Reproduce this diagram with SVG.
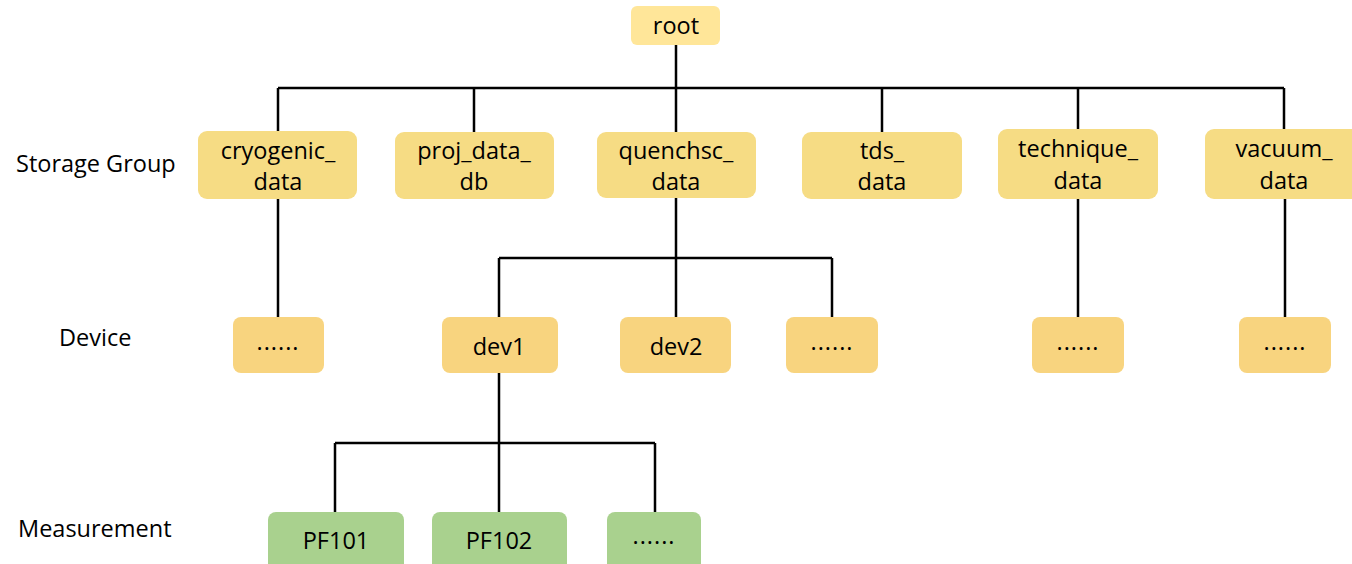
<svg xmlns="http://www.w3.org/2000/svg" width="1352" height="564" viewBox="0 0 1352 564">
<style>
text{font-family:"Open Sans","Noto Sans","Liberation Sans",sans-serif;font-size:23.5px;fill:#000;text-anchor:middle}
.lbl{text-anchor:start}
.dots{letter-spacing:1px}
.root{fill:#FFE699}
.sg{fill:#F6DC84}
.dv{fill:#F8D47F}
.ms{fill:#A9D18E}
.c{fill:none;stroke:#000;stroke-width:2.5}
</style>
<rect width="1352" height="564" fill="#fff"/>
<g id="connectors">
<path class="c" d="M676 45V88M278 88H1284M278 88V131M474 88V132M676 88V132M882 88V132M1078 88V129M1284 88V129"/>
<path class="c" d="M278 199V317M676 198V318M499 258H832M499 258V317M832 258V317M1078 199V317M1285 199V317"/>
<path class="c" d="M499 373V512M335 443H655M335 443V512M655 443V512"/>
</g>
<g id="labels">
<text class="lbl" x="16" y="172">Storage Group</text>
<text class="lbl" x="59" y="346">Device</text>
<text class="lbl" x="18" y="537">Measurement</text>
</g>
<g id="root"><rect class="root" x="631" y="6" width="89" height="39" rx="6"/><text x="676" y="34">root</text></g>
<g id="cryogenic_data"><rect class="sg" x="198" y="131" width="159" height="68" rx="9"/><text x="278" y="159">cryogenic_</text><text x="278" y="190">data</text></g>
<g id="proj_data_db"><rect class="sg" x="395" y="132" width="159" height="67" rx="9"/><text x="474" y="159">proj_data_</text><text x="474" y="190">db</text></g>
<g id="quenchsc_data"><rect class="sg" x="597" y="132" width="159" height="66" rx="9"/><text x="676" y="159">quenchsc_</text><text x="676" y="190">data</text></g>
<g id="tds_data"><rect class="sg" x="802" y="132" width="160" height="67" rx="9"/><text x="882" y="159">tds_</text><text x="882" y="190">data</text></g>
<g id="technique_data"><rect class="sg" x="998" y="129" width="160" height="70" rx="9"/><text x="1078" y="157">technique_</text><text x="1078" y="189">data</text></g>
<g id="vacuum_data"><rect class="sg" x="1205" y="129" width="160" height="70" rx="9"/><text x="1284" y="157">vacuum_</text><text x="1284" y="189">data</text></g>
<g id="dev_more1"><rect class="dv" x="233" y="317" width="91" height="56" rx="8"/><text class="dots" x="278" y="350">......</text></g>
<g id="dev1"><rect class="dv" x="442" y="317" width="116" height="56" rx="8"/><text x="499" y="355">dev1</text></g>
<g id="dev2"><rect class="dv" x="620" y="317" width="111" height="56" rx="8"/><text x="676" y="355">dev2</text></g>
<g id="dev_more2"><rect class="dv" x="786" y="317" width="92" height="56" rx="8"/><text class="dots" x="832" y="350">......</text></g>
<g id="dev_more3"><rect class="dv" x="1032" y="317" width="92" height="56" rx="8"/><text class="dots" x="1078" y="350">......</text></g>
<g id="dev_more4"><rect class="dv" x="1239" y="317" width="92" height="56" rx="8"/><text class="dots" x="1285" y="350">......</text></g>
<g id="PF101"><rect class="ms" x="268" y="512" width="136" height="60" rx="8"/><text x="336" y="549">PF101</text></g>
<g id="PF102"><rect class="ms" x="432" y="512" width="135" height="60" rx="8"/><text x="499" y="549">PF102</text></g>
<g id="ms_more"><rect class="ms" x="607" y="512" width="94" height="60" rx="8"/><text class="dots" x="654" y="544">......</text></g>
</svg>
